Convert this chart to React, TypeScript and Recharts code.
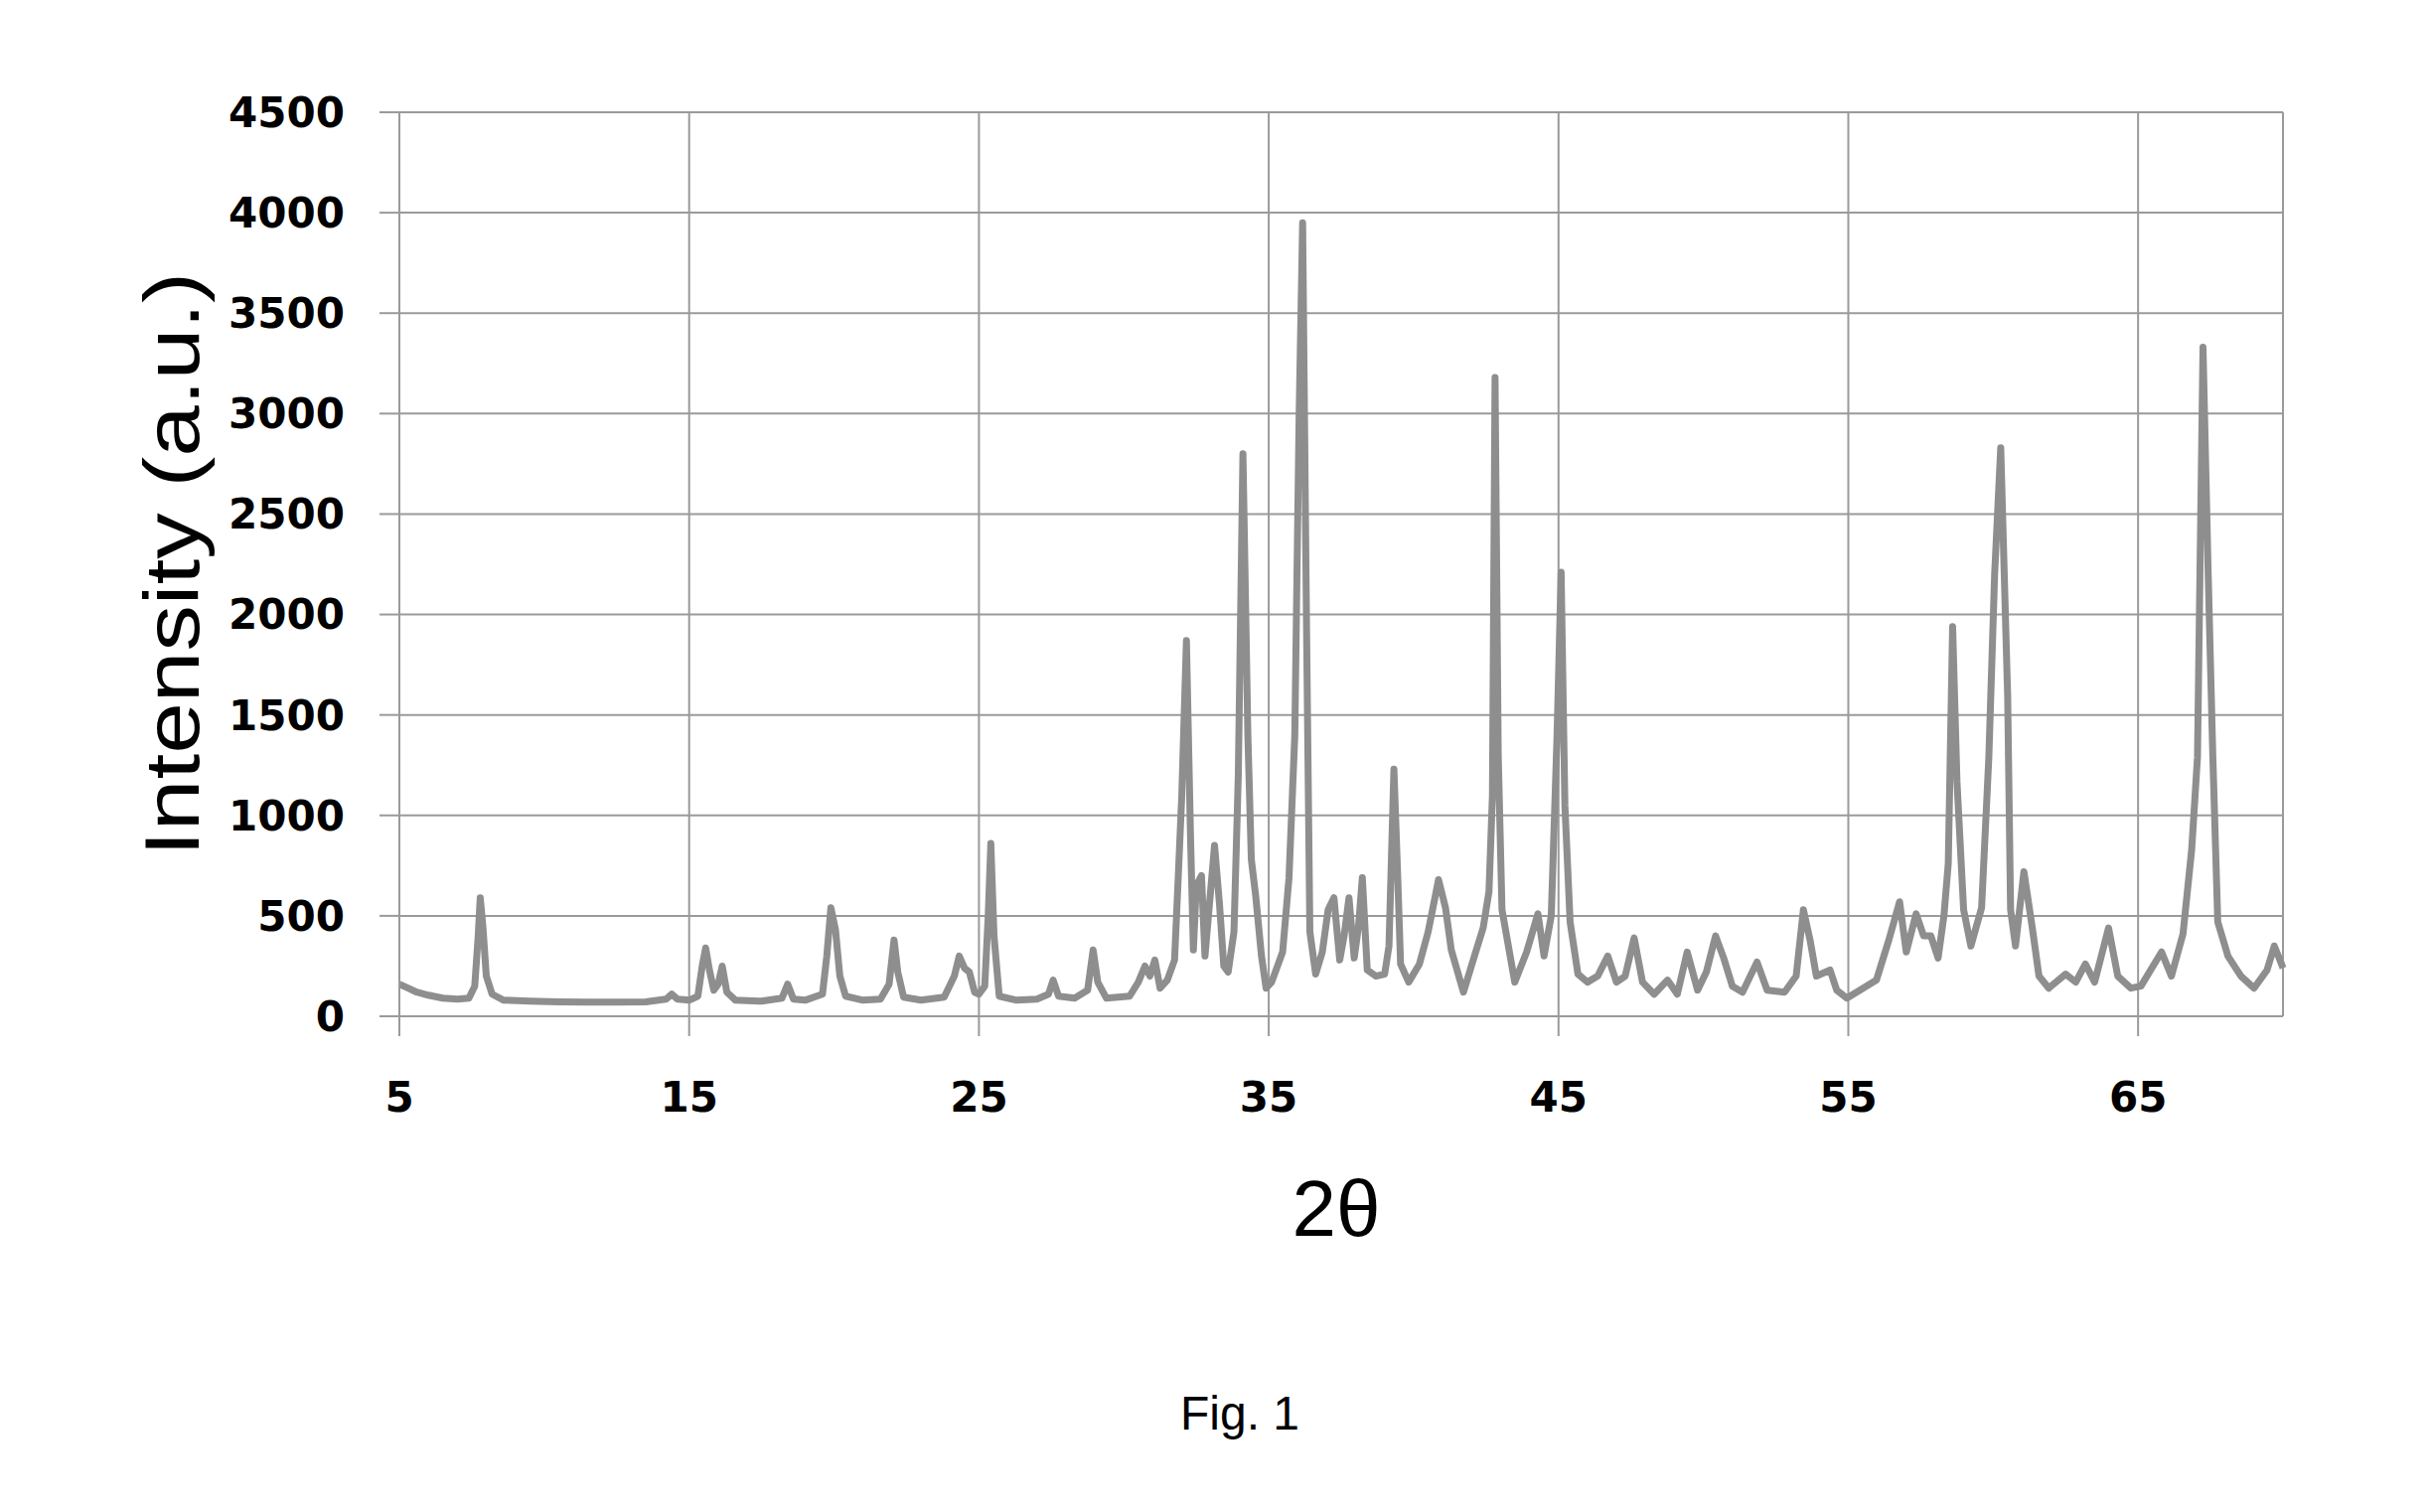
import { LineChart, Line, XAxis, YAxis, CartesianGrid, Label } from "recharts";

// 2-theta positions (deg) and intensities
const twoTheta = [
  5.0, 5.3, 5.6, 6.0, 6.5, 7.0, 7.4, 7.6, 7.72, 7.79, 7.88, 8.0, 8.2, 8.6, 9.5,
  10.5, 11.5, 12.5, 13.5, 14.2, 14.4, 14.6, 15.0, 15.3, 15.45, 15.57, 15.7, 15.85,
  16.0, 16.14, 16.3, 16.6, 17.5, 18.2, 18.4, 18.6, 19.0, 19.6, 19.75, 19.89, 20.05,
  20.2, 20.4, 21.0, 21.6, 21.9, 22.07, 22.2, 22.4, 23.0, 23.8, 24.15, 24.32, 24.5,
  24.67, 24.85, 25.0, 25.2, 25.32, 25.41, 25.52, 25.7, 26.3, 27.0, 27.4, 27.56,
  27.75, 28.3, 28.75, 28.94, 29.1, 29.4, 30.2, 30.5, 30.73, 30.9, 31.07, 31.25,
  31.5, 31.75, 31.88, 32.0, 32.16, 32.3, 32.4, 32.5, 32.68, 32.8, 32.95, 33.13,
  33.3, 33.45, 33.6, 33.8, 33.95, 34.11, 34.28, 34.4, 34.55, 34.75, 34.91, 35.1,
  35.48, 35.7, 35.9, 36.05, 36.17, 36.3, 36.42, 36.62, 36.85, 37.05, 37.25, 37.45,
  37.6, 37.77, 37.95, 38.1, 38.23, 38.4, 38.7, 39.0, 39.15, 39.32, 39.45, 39.55,
  39.83, 40.2, 40.5, 40.86, 41.1, 41.3, 41.72, 42.1, 42.4, 42.6, 42.72, 42.81,
  42.92, 43.05, 43.49, 43.9, 44.29, 44.5, 44.75, 44.95, 45.09, 45.22, 45.4, 45.67,
  46.0, 46.35, 46.7, 47.0, 47.3, 47.61, 47.9, 48.3, 48.76, 49.1, 49.44, 49.8, 50.1,
  50.42, 50.7, 51.0, 51.35, 51.85, 52.2, 52.8, 53.2, 53.45, 53.68, 53.9, 54.37,
  54.6, 54.95, 55.4, 55.97, 56.4, 56.77, 57.0, 57.34, 57.6, 57.85, 58.1, 58.3,
  58.45, 58.6, 58.75, 58.98, 59.23, 59.6, 59.85, 60.05, 60.26, 60.5, 60.6, 60.77,
  61.06, 61.35, 61.58, 61.92, 62.5, 62.85, 63.18, 63.5, 63.98, 64.3, 64.75, 65.1,
  65.81, 66.15, 66.55, 66.85, 67.05, 67.24, 67.42, 67.58, 67.75, 68.1, 68.55, 69.0,
  69.45, 69.7, 69.95, 70.0,
];

const intensity = [
  160, 140, 120, 105, 90, 85, 90, 150, 400, 590, 450, 200, 110, 80, 75,
  72, 70, 70, 72, 85, 110, 85, 80, 100, 250, 340, 230, 130,
  160, 250, 120, 80, 75, 90, 160, 85, 80, 110, 300, 540, 430,
  200, 100, 80, 85, 160, 380, 220, 95, 80, 95, 200, 300, 240,
  220, 120, 110, 150, 500, 860, 400, 100, 80, 85, 110, 180,
  100, 90, 130, 330, 170, 90, 100, 170, 250, 200, 280, 140,
  180, 280, 700, 1100, 1870, 900, 330, 650, 700, 300, 550, 850,
  560, 250, 220, 420, 1200, 2800, 1400, 780, 600, 300, 140, 170,
  320, 690, 1400, 3000, 3950, 2000, 420, 210, 320, 530, 590, 280,
  400, 590, 290, 450, 690, 230, 200, 210, 350, 1230, 700, 260,
  170, 260, 420, 680, 540, 330, 120, 300, 440, 620, 1100, 3180,
  1300, 530, 170, 320, 510, 300, 500, 1400, 2210, 1050, 470, 210,
  170, 200, 300, 170, 200, 390, 170, 110, 180, 110, 320, 130, 220,
  400, 290, 150, 120, 270, 130, 120, 200, 530, 380, 200, 230,
  130, 90, 130, 180, 380, 570, 320, 510, 400, 400, 290, 500,
  760, 1940, 1170, 530, 350, 540, 1290, 2200, 2830, 1590, 530, 350,
  720, 440, 200, 140, 210, 170, 260, 170, 440, 200, 140, 150,
  320, 200, 410, 830, 1290, 3330, 2200, 1290, 470, 300, 200, 140,
  230, 350, 260, 240,
];

const xTicks = [5, 15, 25, 35, 45, 55, 65];
const yTicks = [0, 500, 1000, 1500, 2000, 2500, 3000, 3500, 4000, 4500];

const data = twoTheta.map((x, i) => ({ x, y: intensity[i] }));

const GRID = "#9a9a9a";
const TICK_STYLE = {
  fontFamily: "DejaVu Sans",
  fontWeight: "bold",
  fontSize: 42,
  fill: "#000",
};

function YTitle(props: any) {
  const vb = props.viewBox ?? { x: 0, y: 113, width: 402, height: 910 };
  const bx = vb.x + 200;
  const cy = vb.y + vb.height / 2;
  return (
    <text
      x={bx}
      y={cy}
      transform={`rotate(-90, ${bx}, ${cy})`}
      textAnchor="middle"
      textLength={588}
      lengthAdjust="spacingAndGlyphs"
      fontFamily="Liberation Sans, Arial, sans-serif"
      fontSize={78}
      fill="#000"
    >
      Intensity (a.u.)
    </text>
  );
}

function XTitle(props: any) {
  const vb = props.viewBox ?? { x: 402, y: 1023, width: 1896, height: 499 };
  return (
    <text
      x={vb.x + vb.width / 2 - 5}
      y={vb.y + 221}
      textAnchor="middle"
      fontFamily="Liberation Sans, Arial, sans-serif"
      fontSize={80}
      fill="#000"
    >
      2θ
    </text>
  );
}

export default function App() {
  return (
    <div style={{ position: "absolute", left: 0, top: 0, width: 2447, height: 1522, background: "#fff" }}>
      <LineChart
        width={2447}
        height={1522}
        data={data}
        margin={{ top: 113, right: 149, bottom: 0, left: 0 }}
      >
        <CartesianGrid stroke={GRID} strokeWidth={2} />
        <XAxis
          dataKey="x"
          type="number"
          domain={[5, 70]}
          ticks={xTicks}
          height={499}
          tickSize={20}
          tickMargin={46}
          tick={TICK_STYLE}
          stroke={GRID}
          strokeWidth={2}
        >
          <Label content={XTitle} />
        </XAxis>
        <YAxis
          type="number"
          domain={[0, 4500]}
          ticks={yTicks}
          width={402}
          tickSize={20}
          tickMargin={35}
          tick={TICK_STYLE}
          stroke={GRID}
          strokeWidth={2}
        >
          <Label content={YTitle} />
        </YAxis>
        <Line
          type="linear"
          dataKey="y"
          stroke="#8e8e8e"
          strokeWidth={7}
          strokeLinejoin="round"
          dot={false}
          isAnimationActive={false}
        />
      </LineChart>
      <div
        style={{
          position: "absolute",
          left: 0,
          top: 1399,
          width: 2496,
          textAlign: "center",
          fontFamily: "Liberation Sans, Arial, sans-serif",
          fontSize: 48,
          lineHeight: 1,
          color: "#000",
        }}
      >
        Fig. 1
      </div>
    </div>
  );
}
